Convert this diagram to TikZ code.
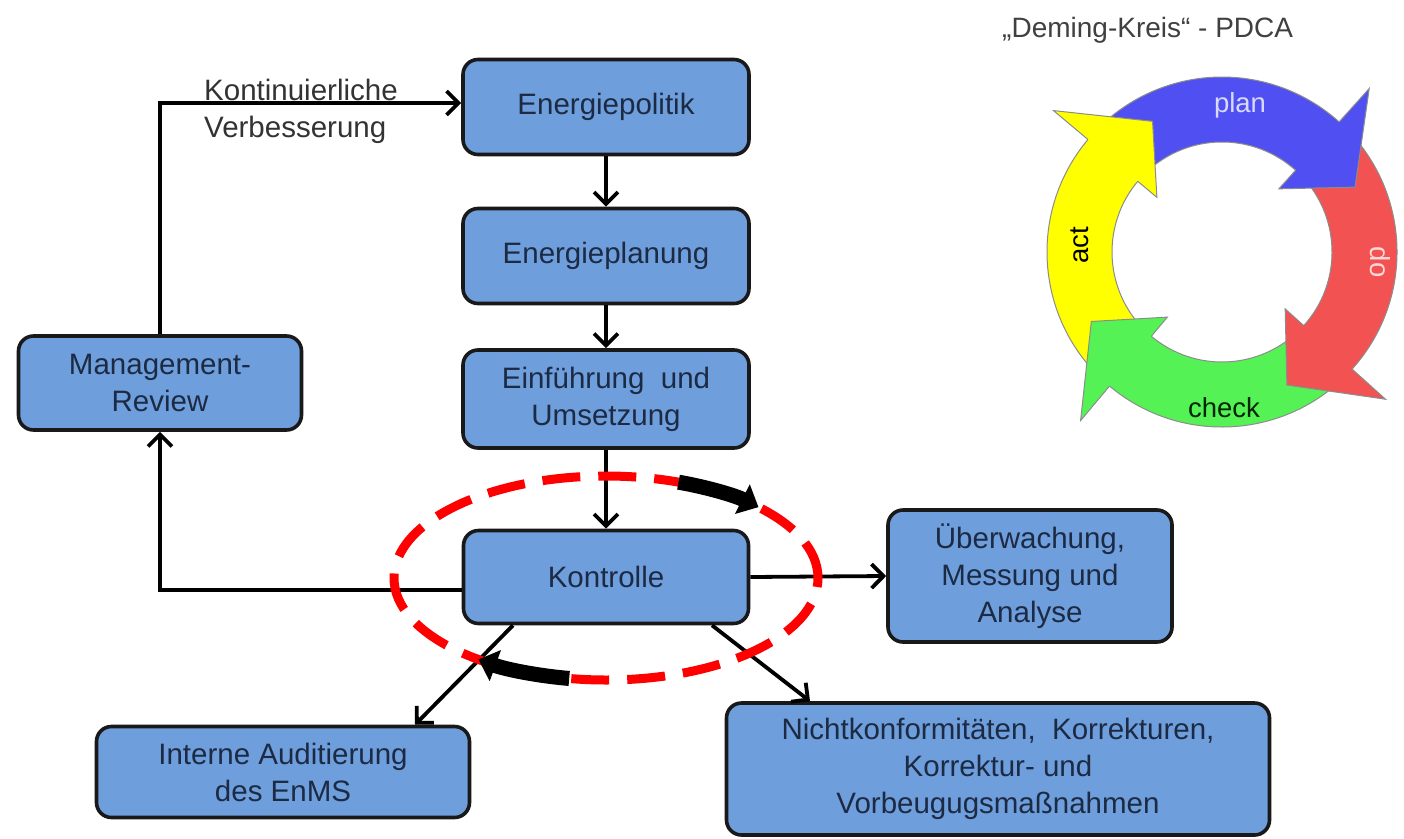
\documentclass[tikz,border=0pt]{standalone}
\usepackage{fontspec}
\setmainfont{Liberation Sans}
\usetikzlibrary{arrows.meta}
\definecolor{boxblue}{HTML}{6E9EDB}
\definecolor{boxtext}{HTML}{1C2A44}
\definecolor{pblue}{HTML}{5050F2}
\definecolor{pred}{HTML}{F25252}
\definecolor{pgreen}{HTML}{55F255}
\definecolor{pyellow}{HTML}{FFFF00}
\begin{document}
\begin{tikzpicture}[x=1pt,y=-1pt,
  box/.style={draw=black!90, line width=3.6pt, fill=boxblue, rounded corners=15pt,
    align=center, text=boxtext, font=\fontsize{29.5}{37}\selectfont, inner sep=0pt},
  conn/.style={line width=3.8pt, -{Straight Barb[length=12pt,width=24pt]}},
  lbl/.style={text=black!80, font=\fontsize{29.5}{34}\selectfont, inner sep=0pt},
  band/.style={draw=black!45, line width=1pt},
  plbl/.style={font=\fontsize{27.5}{30}\selectfont, inner sep=0pt},
  thickarrow/.style={line width=15pt, -{Triangle[length=18pt,width=32pt]}}
]
\useasboundingbox[fill=white] (0,0) rectangle (1404,838);

% boxes
\node[box, minimum width=286pt, minimum height=95pt] (ep) at (606,107) {Energiepolitik};
\node[box, minimum width=286pt, minimum height=95pt] (epl) at (606,256) {Energieplanung};
\node[box, minimum width=286pt, minimum height=98pt] (eu) at (606,399) {Einführung~ und\\Umsetzung};
\node[box, minimum width=285pt, minimum height=93pt] (ko) at (606,577) {Kontrolle};
\node[box, minimum width=283pt, minimum height=94pt] (mr) at (160,383) {Management-\\Review};
\node[box, minimum width=284pt, minimum height=132pt] (ue) at (1030,576) {Überwachung,\\Messung und\\Analyse};
\node[box, minimum width=373pt, minimum height=91pt] (ia) at (283,772) {Interne Auditierung\\des EnMS};
\node[box, minimum width=543pt, minimum height=132pt] (nk) at (998,769) {Nichtkonformitäten,~ Korrekturen,\\Korrektur- und\\Vorbeugugsmaßnahmen};

% connectors
\draw[conn] (ep.south) -- (epl.north);
\draw[conn] (epl.south) -- (eu.north);
\draw[conn] (eu.south) -- (ko.north);
\draw[conn] ([yshift=-13pt]ko.west) -| (mr.south);
\draw[conn] (mr.north) |- ([yshift=4pt]ep.west);
\node[lbl, anchor=west] (k1) at (204,90) {Kontinuierliche};
\node[lbl, anchor=west] (k2) at (204,130) {Verbesserung};
\draw[conn] (ko.east) -- (ue.west);
\draw[conn] ([xshift=-93pt]ko.south) -- ([xshift=132pt]ia.north);
\draw[conn] ([xshift=106pt]ko.south) -- ([xshift=-188pt]nk.north);

% red dashed ellipse with black arrows
\begin{scope}[shift={(606,578)}]
  \draw[red, line width=9pt, dash pattern=on 38pt off 18pt] (0,0) ellipse [x radius=212pt, y radius=102pt];
  \draw[thickarrow] (70:212pt and 102pt) arc[start angle=70, end angle=44, x radius=212pt, y radius=102pt];
  \draw[thickarrow] (-100:212pt and 102pt) arc[start angle=-100, end angle=-127, x radius=212pt, y radius=102pt];
\end{scope}

% PDCA circle
\node[anchor=west, text=black!75, font=\fontsize{28}{30}\selectfont, inner sep=0pt] (title) at (1002,30) {„Deming-Kreis“ - PDCA};
\begin{scope}[shift={(1222,252)}]
  \filldraw[band, fill=pblue] (139:175pt) arc[start angle=139, end angle=47, radius=175pt] -- (47:110pt) arc[start angle=47, end angle=139, radius=110pt] -- cycle;
  \filldraw[band, fill=pred] (47:175pt) arc[start angle=47, end angle=-43, radius=175pt] -- (-43:110pt) arc[start angle=-43, end angle=47, radius=110pt] -- cycle;
  \filldraw[band, fill=pgreen] (-43:175pt) arc[start angle=-43, end angle=-131, radius=175pt] -- (-131:110pt) arc[start angle=-131, end angle=-43, radius=110pt] -- cycle;
  \filldraw[band, fill=pyellow] (229:175pt) arc[start angle=229, end angle=139, radius=175pt] -- (139:110pt) arc[start angle=139, end angle=229, radius=110pt] -- cycle;
  % heads
  \fill[pblue] (48:220pt) -- (26:148pt) -- (48:85pt) -- cycle;
  \draw[band] (48:175pt) -- (48:220pt) -- (26:148pt) -- (48:85pt) -- (48:110pt);
  \fill[pred] (-42:220pt) -- (-64:148pt) -- (-42:85pt) -- cycle;
  \draw[band] (-42:175pt) -- (-42:220pt) -- (-64:148pt) -- (-42:85pt) -- (-42:110pt);
  \fill[pgreen] (-130:220pt) -- (-152:148pt) -- (-130:85pt) -- cycle;
  \draw[band] (-130:175pt) -- (-130:220pt) -- (-152:148pt) -- (-130:85pt) -- (-130:110pt);
  \fill[pyellow] (140:220pt) -- (118:148pt) -- (140:85pt) -- cycle;
  \draw[band] (140:175pt) -- (140:220pt) -- (118:148pt) -- (140:85pt) -- (140:110pt);
\end{scope}
\node[plbl, text=blue!15] (plan) at (1240,105) {plan};
\node[plbl, text=red!15, rotate=-90] (do) at (1380,262) {do};
\node[plbl, text=black!85!green] (check) at (1224,408) {check};
\node[plbl, text=black, rotate=90] (act) at (1080,245) {act};
\end{tikzpicture}
\end{document}
